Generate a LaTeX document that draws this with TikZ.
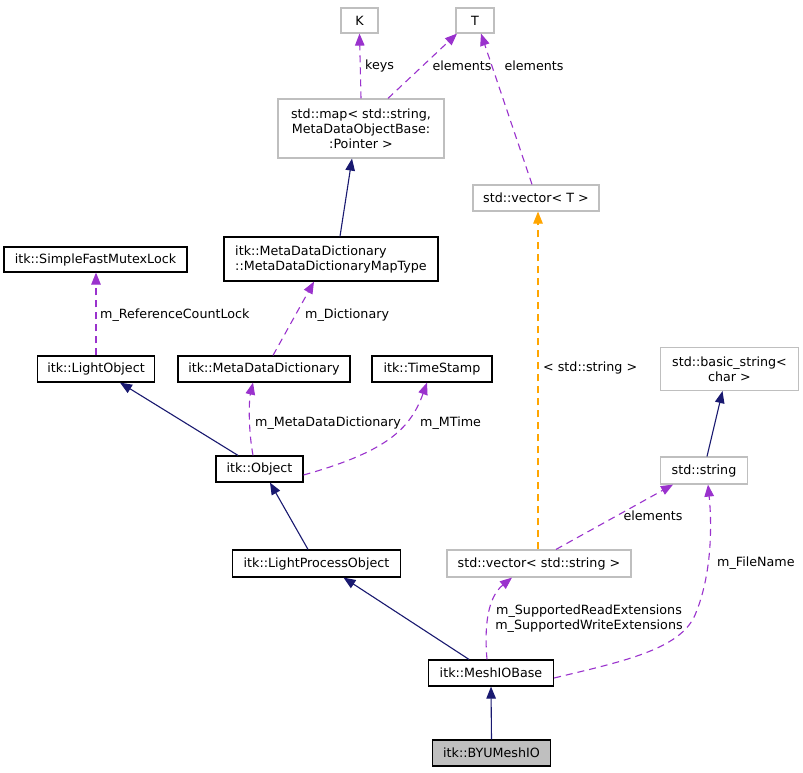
\documentclass[tikz,border=0pt]{standalone}
\usepackage{fontspec}
\setmainfont{DejaVu Sans}
\usetikzlibrary{arrows.meta}
\definecolor{navyc}{HTML}{191970}
\definecolor{purpc}{HTML}{9A32CD}
\definecolor{orngc}{HTML}{FFA500}
\definecolor{grayc}{HTML}{BFBFBF}
\begin{document}
\begin{tikzpicture}[x=1pt,y=-1pt,
  font=\fontsize{12.7}{15}\selectfont,
  cls/.style={draw=black, line width=1.2pt, fill=white, inner sep=0pt, align=center},
  ext/.style={draw=grayc, line width=1.2pt, fill=white, inner sep=0pt, align=center},
  tip/.style={-{Triangle[length=12pt,width=9.5pt]}},
  inh/.style={draw=navyc, line width=1.1pt, tip},
  dep/.style={draw=purpc, line width=1.1pt, dash pattern=on 7pt off 5pt, tip},
  tpl/.style={draw=orngc, line width=1.1pt, dash pattern=on 7pt off 5pt, tip},
  lbl/.style={inner sep=0pt, align=center}]
\useasboundingbox (0,0) rectangle (803,773);
\fill[white] (0,0) rectangle (803,773);

% nodes
\node[ext, minimum width=37pt, minimum height=25pt] (K) at (359.5,20.5) {K};
\node[ext, minimum width=38pt, minimum height=25pt] (T) at (475,20.5) {T};
\node[ext, minimum width=166pt, minimum height=59pt] (map) at (361,128.5) {std::map\textless{} std::string,\\ MetaDataObjectBase:\\:Pointer \textgreater{}};
\node[ext, minimum width=126pt, minimum height=26pt] (vecT) at (536,198) {std::vector\textless{} T \textgreater{}};
\node[cls, minimum width=183pt, minimum height=25pt] (sfml) at (95.5,259.5) {itk::SimpleFastMutexLock};
\node[cls, minimum width=214pt, minimum height=44pt, align=left] (mapt) at (331,259) {itk::MetaDataDictionary\\::MetaDataDictionaryMapType};
\node[cls, minimum width=117pt, minimum height=26pt] (lo) at (96,369) {itk::LightObject};
\node[cls, minimum width=172pt, minimum height=26pt] (mdd) at (264,369) {itk::MetaDataDictionary};
\node[cls, minimum width=120pt, minimum height=26pt] (ts) at (432,369) {itk::TimeStamp};
\node[cls, minimum width=87pt, minimum height=26pt] (obj) at (259.5,469) {itk::Object};
\node[ext, minimum width=138pt, minimum height=43pt] (bstr) at (729.5,369) {std::basic\_string\textless{}\\ char \textgreater{}};
\node[ext, minimum width=87pt, minimum height=27pt] (str) at (704,470.5) {std::string};
\node[cls, minimum width=168pt, minimum height=27pt] (plo) at (316.5,563.5) {itk::LightProcessObject};
\node[ext, minimum width=184pt, minimum height=27pt] (vecS) at (539,563.5) {std::vector\textless{} std::string \textgreater{}};
\node[cls, minimum width=125pt, minimum height=26pt] (mib) at (491,673) {itk::MeshIOBase};
\node[cls, fill=grayc, minimum width=118pt, minimum height=26pt] (byu) at (491.5,753) {itk::BYUMeshIO};

% edges
\draw[dep] (map.north) -- (K.south);
\node[lbl, anchor=west] (l1) at (365,66) {keys};
\draw[dep] ([xshift=27pt]map.north) -- ([xshift=-18pt]T.south);
\node[lbl] (l2) at (462,66) {elements};
\draw[dep] ([xshift=-4pt]vecT.north) -- ([xshift=6pt]T.south);
\node[lbl] (l3) at (534,66) {elements};
\draw[inh] ([xshift=9pt]mapt.north) -- ([xshift=-9pt]map.south);
\draw[dep] (lo.north) -- ([xshift=0.5pt]sfml.south);
\node[lbl, anchor=west] (l4) at (100,315) {m\_ReferenceCountLock};
\draw[dep] ([xshift=9pt]mdd.north) -- ([xshift=-17pt]mapt.south);
\node[lbl, anchor=west] (l5) at (305,315) {m\_Dictionary};
\draw[inh] ([xshift=-21.5pt]obj.north) -- ([xshift=24pt]lo.south);
\draw[dep] ([xshift=-6.5pt]obj.north) .. controls (248,428) and (249,400) .. ([xshift=-11pt]mdd.south);
\node[lbl, anchor=west] (l6) at (255,423) {m\_MetaDataDictionary};
\draw[dep] ([yshift=-6pt]obj.east) .. controls (385,452) and (410,430) .. ([xshift=-5pt]ts.south);
\node[lbl, anchor=west] (l7) at (420,423) {m\_MTime};
\draw[inh] ([xshift=-8.5pt]plo.north) -- ([xshift=10.5pt]obj.south);
\draw[tpl] ([xshift=-1pt]vecS.north) -- ([xshift=2pt]vecT.south);
\node[lbl, anchor=west] (l8) at (543,368) {\textless{} std::string \textgreater{}};
\draw[dep] ([xshift=17pt]vecS.north) -- ([xshift=-31pt]str.south);
\node[lbl] (l9) at (653,516) {elements};
\draw[inh] ([xshift=3pt]str.north) -- ([xshift=-7pt]bstr.south);
\draw[inh] ([xshift=-22pt]mib.north) -- ([xshift=27pt]plo.south);
\draw[dep] ([xshift=-4pt]mib.north) .. controls (484,625) and (488,597) .. ([xshift=-27pt]vecS.south);
\node[lbl] (l10) at (589,619) {m\_SupportedReadExtensions\\m\_SupportedWriteExtensions};
\draw[dep] ([yshift=-5pt]mib.east) .. controls (620,662) and (680,650) .. (695,615) .. controls (712,575) and (712,525) .. ([xshift=4pt]str.south);
\node[lbl, anchor=west] (l11) at (717,563) {m\_FileName};
\draw[inh] (byu.north) -- (mib.south);
\end{tikzpicture}
\end{document}
